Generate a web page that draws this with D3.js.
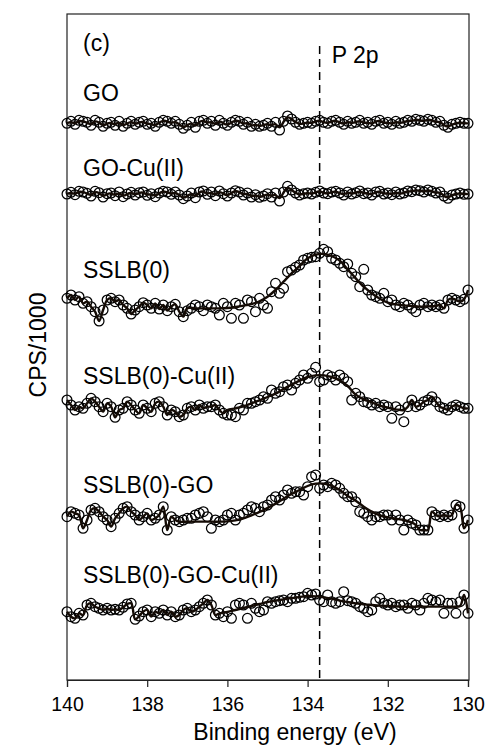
<!DOCTYPE html>
<html>
<head>
<meta charset="utf-8">
<script src="https://cdn.jsdelivr.net/npm/d3@7"></script>
<style>
  html, body { margin: 0; padding: 0; background: #ffffff; }
  svg text { font-family: "Liberation Sans", Arial, Helvetica, sans-serif; fill: #000; }
</style>
</head>
<body>
<svg id="chart" width="491" height="749"></svg>
<script>
// ---- data -------------------------------------------------------------
// P 2p spectra, 140 -> 130 eV in 0.1 eV steps; intensities are relative
// to each spectrum's stacking offset (arbitrary CPS units).
const energyFrom = 140;
const energyStep = 0.1;
const pointCount = 101;

const seriesNames = ["GO", "GO-Cu(II)", "SSLB(0)", "SSLB(0)-Cu(II)", "SSLB(0)-GO", "SSLB(0)-GO-Cu(II)"];
const offsets = [1670, 1458, 1125, 820, 480, 210];

const goValues = [
  0, 6, -3, 9, 6, 3, -6, 9, 3, -9, 0, 3, -6, 6, -9, 0, 6, -3, 3, 6, -3,
  0, -9, 3, 9, 6, 0, 6, -3, -15, -6, 3, -12, 6, 9, 0, 6, -6, 9, 0, -6,
  3, 9, 6, -3, 3, -9, -3, -9, -6, 0, -9, 3, -20, 6, 22, 13, 3, -3, 0, 3,
  0, 6, 9, 3, 0, 6, 9, 3, -3, 6, 0, 3, 9, 0, 3, -3, 6, 9, 0, 3,
  -3, 6, 0, 3, 9, 6, 12, 9, 6, 12, 9, 3, 6, -6, -12, -3, 0, 3, 0, 0
];
const goCuValues = [
  0, 5, -2, 8, 6, 2, -6, 8, 4, -9, 1, 3, -5, 6, -8, 0, 5, -3, 4, 6, -4,
  1, -8, 3, 8, 6, -1, 6, -3, -14, -6, 3, -11, 6, 9, -1, 6, -5, 9, 1, -6,
  3, 10, 6, -3, 3, -9, -2, -10, -6, 1, -9, 3, -21, 6, 23, 12, 3, -3, 1, 3,
  0, 5, 9, 3, 1, 6, 8, 3, -3, 6, 0, 4, 9, 1, 3, -3, 6, 8, 0, 3,
  -2, 6, 0, 3, 9, 7, 12, 10, 6, 12, 8, 3, 6, -6, -13, -3, 0, 3, -1, 0
];
const sslbValues = [
  20, 30, 15, 25, 5, 10, -5, -20, -48, -15, 15, 20, 10, 15, 0, -10, -27, -15, -5, 7,
  0, -10, 5, -12, 0, -17, -5, 2, -20, -35, -17, -10, 0, -5, -17, 0, -5, -10, -30, 5,
  -5, -40, 5, 0, -40, 15, 10, -20, 20, 0, -10,
  40, 65, 35, 50, 100, 105, 113, 120, 135, 140, 143, 145, 155, 167, 160, 140, 135, 125, 115, 123,
  95, 85, 55, 107, 45, 30, 25, 20, 35, 10, 15, 0, -5, 5, 0, -10, -20, 0, 5, -5,
  0, -5, 0, -10, 15, 20, 15, 10, 17, 45
];
const sslbCuValues = [
  20, 5, -10, 0, -5, 10, 25, 15, 0, -15, 10, 0, -32, -10, -5, 15, 5, -10, -20, 5,
  -5, -15, 10, 15, 0, -25, -10, -15, -30, -25, -5, 0, -10, 5, -5, 0,
  0, 5, -10, -20, -25, -25, -30, -5, -10, 10, 10, 15, 20, 30, 25,
  50, 40, 45, 60, 65, 50, 70, 80, 95, 85, 100, 118, 75, 80, 95, 90, 80, 95, 85, 75,
  20, 40, 30, 15, 12, 5, 10, 0, 5, 0, -35, 0, -10, -45, 0, 20, 0, 5, 15, 20,
  30, 15, 0, -5, -10, 0, 5, 0, -5, -5
];
const sslbGoValues = [
  10, 25, 20, 15, -25, 0, 30, 35, 25, 10, 0, -20, 5, 20, 35, 40, 25, 15, 0, 10,
  20, 0, 5, 15, 40, -30, 10, 0, -5, 0, 5, 5, 15, 20, 25, 10, -25, 0, -5, 0,
  15, 20, 0, 15, 20, 30, 40, 35, 25, 40, 45,
  60, 70, 60, 75, 90, 80, 85, 85, 75, 100, 130, 135, 95, 105, 100, 110, 105, 95, 80, 70,
  70, 55, 25, 20, 10, 0, 10, 10, 15, 15, 0, 15, 0, -30, 0, -10, -15, -30, -30, -30,
  25, 15, 10, 15, 10, 15, 45, 40, -25, 0
];
const sslbGoCuValues = [
  -5, -20, -25, -10, -15, 15, 20, 10, 5, 0, 5, 0, 2, 0, 8, 18, 20, -28, -18, -5,
  0, -20, -5, -10, 0, -15, -5, -20, -15, 0, 5, -5, 0, 10, 20, 30, 15, -15, -10, -20,
  -5, -25, 15, 20, 15, -25, 20, 5, -5, 0, 25,
  20, 25, 28, 30, 25, 35, 35, 38, 40, 50, 45, 48, 30, 25, 45, 25, 20, 25, 55, 28,
  25, 20, 10, 5, -5, 0, 25, 35, 20, 15, 20, 10, 15, 15, 5, 20, 15, 0, 20, 35,
  30, 25, 30, -10, 20, 20, -10, 25, 45, -10
];

// Fitted envelopes (every second point, 0.2 eV) over the peak region.
// fitStart is the index of the first fitted point in the spectrum.
const fitStart = [null, null, 30, 40, 28, 38];
const sslbFit = [-10, -10, -10, -10, -10, -9, -6, -2, 3, 11, 25, 45, 70, 95, 117, 140,
  151, 153, 147, 133, 107, 80, 55, 35, 19, 7, 2, -1, -3, -5, -4, -3];
const sslbCuFit = [-10, -5, 1, 10, 19, 29, 39, 53, 66, 78, 89, 94, 94, 89, 79, 62,
  36, 22, 13, 3, -3, -8, -10];
const sslbGoFit = [-5, -5, -5, -5, -5, -5, -4, -1, 5, 14, 24, 36, 49, 64, 78, 90,
  102, 109, 109, 103, 90, 72, 58, 40, 25, 14, 8, 4, 0, -8];
const sslbGoCuFit = [-10, -6, 0, 6, 12, 18, 24, 28, 32, 36, 39, 42, 41, 38, 34, 28,
  24, 20, 17, 15, 13, 12, 11, 10, 10, 10, 10, 10, 10, 10, 12];

const seriesValues = [goValues, goCuValues, sslbValues, sslbCuValues, sslbGoValues, sslbGoCuValues];
const fitValues = [null, null, sslbFit, sslbCuFit, sslbGoFit, sslbGoCuFit];

const xTicks = [140, 138, 136, 134, 132, 130];
const peakEnergy = 133.7;
const peakLabel = "P 2p";
const panelLabel = "(c)";
const xTitle = "Binding energy (eV)";
const yTitle = "CPS/1000";

// ---- layout -------------------------------------------------------------
const plot = { left: 67, right: 468, top: 14, bottom: 680 };
const labelX = 83;
const labelBaselines = [101, 176, 278, 384, 493, 583];
const labelSize = 23;

const svg = d3.select("#chart");

const energies = d3.range(pointCount).map(i => +(energyFrom - i * energyStep).toFixed(1));

const x = d3.scaleLinear().domain([140, 130]).range([plot.left, plot.right]);
const y = d3.scaleLinear().domain([0, 1998]).range([plot.bottom, plot.top]);

// frame
svg.append("rect")
  .attr("x", plot.left).attr("y", plot.top)
  .attr("width", plot.right + 1 - plot.left).attr("height", plot.bottom - plot.top)
  .attr("fill", "none").attr("stroke", "#222").attr("stroke-width", 1.2);

// bottom axis
const xAxis = d3.axisBottom(x).tickValues(xTicks).tickSize(7).tickPadding(10).tickFormat(d3.format("d"));
const gx = svg.append("g").attr("transform", `translate(0,${plot.bottom})`).call(xAxis);
gx.select(".domain").attr("stroke", "#222").attr("stroke-width", 1.2);
gx.selectAll(".tick line").attr("stroke", "#222").attr("stroke-width", 1.2);
gx.selectAll(".tick text")
  .attr("font-size", 19.5)
  .style("font-family", '"Liberation Sans", Arial, sans-serif')
  .attr("fill", "#000");

// axis titles
svg.append("text")
  .attr("x", 295).attr("y", 740)
  .attr("text-anchor", "middle").attr("font-size", labelSize)
  .text(xTitle);
svg.append("text")
  .attr("transform", "translate(46,345) rotate(-90)")
  .attr("text-anchor", "middle").attr("font-size", labelSize)
  .text(yTitle);

// peak position marker
svg.append("line")
  .attr("x1", x(peakEnergy)).attr("x2", x(peakEnergy))
  .attr("y1", 46).attr("y2", plot.bottom)
  .attr("stroke", "#000").attr("stroke-width", 1.5)
  .attr("stroke-dasharray", "8,5");
svg.append("text")
  .attr("x", x(peakEnergy) + 12).attr("y", 63)
  .attr("font-size", labelSize)
  .text(peakLabel);

svg.append("text")
  .attr("x", labelX).attr("y", 51)
  .attr("font-size", labelSize)
  .text(panelLabel);

// spectra
seriesValues.forEach((vals, s) => {
  const off = offsets[s];
  const pts = vals.map((v, i) => ({ e: energies[i], v: off + v }));

  // fitted line: raw trace outside the fitted window, envelope inside it
  let linePts;
  const fit = fitValues[s];
  if (fit) {
    const i0 = fitStart[s];
    const i1 = i0 + 2 * (fit.length - 1);
    linePts = pts.filter((p, i) => i < i0)
      .concat(fit.map((v, k) => ({ e: energies[i0 + 2 * k], v: off + v })))
      .concat(pts.filter((p, i) => i > i1));
  } else {
    linePts = pts;
  }

  const g = svg.append("g");
  g.selectAll("circle")
    .data(pts)
    .join("circle")
    .attr("cx", d => x(d.e))
    .attr("cy", d => y(d.v))
    .attr("r", 4.9)
    .attr("fill", "none")
    .attr("stroke", "#000")
    .attr("stroke-width", 1.25);

  const line = d3.line()
    .x(d => x(d.e))
    .y(d => y(d.v))
    .curve(fit ? d3.curveCatmullRom.alpha(0.5) : d3.curveBasis);

  g.append("path")
    .attr("d", line(linePts))
    .attr("fill", "none")
    .attr("stroke", "#140b05")
    .attr("stroke-width", 2.4)
    .attr("stroke-linejoin", "round");

  svg.append("text")
    .attr("x", labelX).attr("y", labelBaselines[s])
    .attr("font-size", labelSize)
    .text(seriesNames[s]);
});
</script>
</body>
</html>
